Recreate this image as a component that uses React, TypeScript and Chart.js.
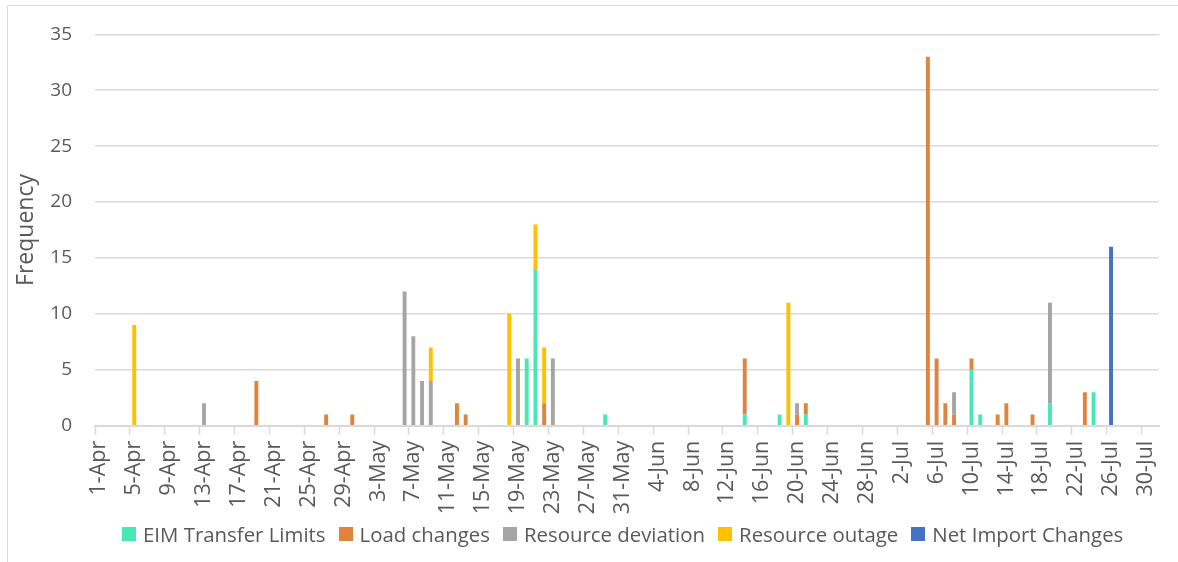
import React, { useEffect, useRef } from 'react';
import { Chart, registerables } from 'chart.js';

Chart.register(...registerables);

// Category axis: one category per day, 1-Apr .. 31-Jul
const monthNames: string[] = ['Apr', 'May', 'Jun', 'Jul'];
const monthDays: number[] = [30, 31, 30, 31];
const categories: string[] = monthNames.flatMap((m, k) =>
  Array.from({ length: monthDays[k] }, (_, i) => `${i + 1}-${m}`)
);

// Series values (only the non-zero days)
const eimTransferLimits: [string, number][] = [
  ['20-May', 6], ['21-May', 14], ['29-May', 1], ['14-Jun', 1], ['18-Jun', 1],
  ['21-Jun', 1], ['10-Jul', 5], ['11-Jul', 1], ['19-Jul', 2], ['24-Jul', 3],
];
const loadChanges: [string, number][] = [
  ['19-Apr', 4], ['27-Apr', 1], ['30-Apr', 1], ['12-May', 2], ['13-May', 1],
  ['22-May', 2], ['14-Jun', 5], ['20-Jun', 1], ['21-Jun', 1], ['5-Jul', 33],
  ['6-Jul', 6], ['7-Jul', 2], ['8-Jul', 1], ['10-Jul', 1], ['13-Jul', 1],
  ['14-Jul', 2], ['17-Jul', 1], ['23-Jul', 3],
];
const resourceDeviation: [string, number][] = [
  ['13-Apr', 2], ['6-May', 12], ['7-May', 8], ['8-May', 4], ['9-May', 4],
  ['19-May', 6], ['23-May', 6], ['20-Jun', 1], ['8-Jul', 2], ['19-Jul', 9],
];
const resourceOutage: [string, number][] = [
  ['5-Apr', 9], ['9-May', 3], ['18-May', 10], ['21-May', 4], ['22-May', 5], ['19-Jun', 11],
];
const netImportChanges: [string, number][] = [['26-Jul', 16]];

const seriesNames: string[] = [
  'EIM Transfer Limits', 'Load changes', 'Resource deviation', 'Resource outage', 'Net Import Changes',
];
const seriesColors: string[] = ['#48E7B3', '#E0843D', '#A5A5A5', '#FFC000', '#4472C4'];
const seriesPoints = [eimTransferLimits, loadChanges, resourceDeviation, resourceOutage, netImportChanges];

const yMin = 0;
const yMax = 35;
const yStep = 5;
const labelEvery = 4;

const FONT = "'Open Sans', sans-serif";
const TEXT = '#595959';
const GRID = '#D9D9D9';

function toSeries(points: [string, number][]): (number | null)[] {
  const m = new Map(points);
  return categories.map((c) => (m.has(c) ? (m.get(c) as number) : null));
}

export default function App() {
  const ref = useRef<HTMLCanvasElement | null>(null);

  useEffect(() => {
    if (!ref.current) return;
    const chart = new Chart(ref.current, {
      type: 'bar',
      data: {
        labels: categories,
        datasets: seriesNames.map((name, k) => ({
          label: name,
          data: toSeries(seriesPoints[k]),
          backgroundColor: seriesColors[k],
          borderWidth: 0,
          barPercentage: 0.45,
          categoryPercentage: 1,
        })),
      },
      options: {
        animation: false,
        responsive: false,
        devicePixelRatio: 1,
        layout: { padding: { left: 8, right: 19, top: 34.3, bottom: 36.3 } },
        plugins: {
          legend: { display: false },
          tooltip: { enabled: false },
        },
        scales: {
          x: {
            stacked: true,
            offset: true,
            grid: {
              drawOnChartArea: false,
              offset: true,
              tickLength: 9,
              tickWidth: 1.5,
              tickColor: (ctx: any) => (ctx.index % labelEvery === 0 ? GRID : 'rgba(0,0,0,0)'),
            },
            border: { color: GRID, width: 2 },
            ticks: {
              autoSkip: false,
              maxRotation: 90,
              minRotation: 90,
              padding: 6,
              color: TEXT,
              font: { family: FONT, size: 21.5 },
              callback: (_v: any, i: number) => (i % labelEvery === 0 ? categories[i] : ''),
            },
            afterFit: (scale: any) => {
              scale.height = 100;
              scale.paddingLeft = 0;
              scale.paddingRight = 0;
            },
          },
          y: {
            stacked: true,
            min: yMin,
            max: yMax,
            grid: { color: GRID, lineWidth: 1.5, drawTicks: false },
            border: { display: false },
            ticks: {
              stepSize: yStep,
              padding: 23,
              color: TEXT,
              font: { family: FONT, size: 19 },
            },
            title: {
              display: true,
              text: 'Frequency',
              color: TEXT,
              font: { family: FONT, size: 23 },
              padding: { top: 4.7, bottom: 0 },
            },
            afterFit: (scale: any) => {
              scale.width = 87;
              scale.paddingTop = 0;
              scale.paddingBottom = 0;
            },
          },
        },
      },
    });
    return () => chart.destroy();
  }, []);

  return (
    <div
      style={{
        position: 'fixed',
        left: 0,
        top: 0,
        width: 1178,
        height: 562,
        overflow: 'hidden',
        background: '#fff',
      }}
    >
      <div
        style={{
          position: 'absolute',
          left: 7,
          top: 5,
          width: 1200,
          height: 600,
          border: `1px solid ${GRID}`,
          boxSizing: 'border-box',
        }}
      />
      <canvas
        ref={ref}
        width={1178}
        height={562}
        style={{ position: 'absolute', left: 0, top: 0, display: 'block' }}
      />
      <div
        style={{
          position: 'absolute',
          left: 122,
          top: 520,
          height: 28,
          display: 'flex',
          alignItems: 'center',
          gap: 13,
          whiteSpace: 'nowrap',
          fontFamily: FONT,
          fontSize: 20.4,
          color: TEXT,
        }}
      >
        {seriesNames.map((name, k) => (
          <div key={name} style={{ display: 'flex', alignItems: 'center' }}>
            <span
              style={{
                display: 'inline-block',
                width: 14,
                height: 14,
                background: seriesColors[k],
                marginRight: 7,
              }}
            />
            <span>{name}</span>
          </div>
        ))}
      </div>
    </div>
  );
}
